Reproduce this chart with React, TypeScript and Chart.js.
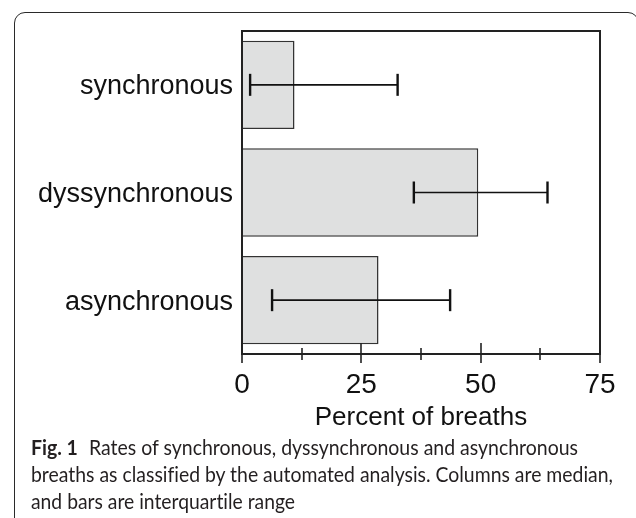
import React, { useEffect, useLayoutEffect, useRef } from "react";
import { Chart, registerables } from "chart.js";

Chart.register(...registerables);

const categories = ["synchronous", "dyssynchronous", "asynchronous"];
const medianValues = [11.0, 49.5, 28.6];
const lowerQuartile = [1.7, 36.0, 6.3];
const upperQuartile = [32.6, 64.0, 43.6];
const majorTicks = [0, 25, 50, 75];
const minorTicks = [12.5, 37.5, 62.5];
const axisTitle = "Percent of breaths";
const captionLabel = "Fig. 1";
const captionLines = [
  "Rates of synchronous, dyssynchronous and asynchronous",
  "breaths as classified by the automated analysis. Columns are median,",
  "and bars are interquartile range",
];
const captionTargetWidths = [547, 582, 264];

const SANS = "'Liberation Sans', Arial, Helvetica, sans-serif";

const decorPlugin = {
  id: "decor",
  afterDatasetsDraw(chart: any) {
    const { ctx, chartArea: a, scales } = chart;
    const xs = scales.x;
    const line = (x1: number, y1: number, x2: number, y2: number) => {
      ctx.beginPath();
      ctx.moveTo(x1, y1);
      ctx.lineTo(x2, y2);
      ctx.stroke();
    };
    ctx.save();
    ctx.strokeStyle = "#222";
    ctx.lineWidth = 2;
    ctx.strokeRect(a.left, a.top, a.right - a.left, a.bottom - a.top);
    ctx.lineWidth = 1.6;
    majorTicks.forEach((v) => {
      const px = Math.round(xs.getPixelForValue(v));
      line(px, a.bottom - 11, px, a.bottom + 9);
    });
    minorTicks.forEach((v) => {
      const px = Math.round(xs.getPixelForValue(v));
      line(px, a.bottom - 6, px, a.bottom + 6);
    });
    const meta = chart.getDatasetMeta(0);
    ctx.strokeStyle = "#111";
    meta.data.forEach((bar: any, i: number) => {
      const y = bar.y;
      const x1 = xs.getPixelForValue(lowerQuartile[i]);
      const x2 = xs.getPixelForValue(upperQuartile[i]);
      ctx.lineWidth = 1.6;
      line(x1, y, x2, y);
      ctx.lineWidth = 2.4;
      line(x1, y - 11, x1, y + 11);
      line(x2, y - 11, x2, y + 11);
    });
    ctx.restore();
  },
};

export default function App() {
  const canvasRef = useRef<HTMLCanvasElement | null>(null);
  const lineRefs = useRef<(HTMLSpanElement | null)[]>([]);

  useEffect(() => {
    if (!canvasRef.current) return;
    const chart = new Chart(canvasRef.current, {
      type: "bar",
      data: {
        labels: categories,
        datasets: [
          {
            data: medianValues,
            backgroundColor: "#dfe0e0",
            borderColor: "#333",
            borderWidth: 1.5,
            barPercentage: 0.82,
            categoryPercentage: 1,
          },
        ],
      },
      options: {
        indexAxis: "y",
        responsive: false,
        animation: false,
        layout: { padding: { top: 31, right: 36, left: 0, bottom: 0 } },
        plugins: { legend: { display: false }, tooltip: { enabled: false } },
        scales: {
          x: {
            type: "linear",
            min: 0,
            max: 75,
            position: "bottom",
            afterBuildTicks: (s: any) => {
              s.ticks = majorTicks.map((v) => ({ value: v }));
            },
            afterFit: (s: any) => {
              s.height = 86;
            },
            grid: { display: false, drawTicks: false },
            border: { display: false },
            ticks: {
              padding: 14,
              color: "#111",
              maxRotation: 0,
              autoSkip: false,
              font: { family: SANS, size: 28 },
            },
            title: {
              display: true,
              text: axisTitle,
              color: "#111",
              font: { family: SANS, size: 26 },
              padding: { top: 0, bottom: 7 },
            },
          },
          y: {
            type: "category",
            afterFit: (s: any) => {
              s.width = 242;
            },
            grid: { display: false, drawTicks: false },
            border: { display: false },
            ticks: {
              padding: 9,
              labelOffset: 2,
              color: "#111",
              font: { family: SANS, size: 27 },
            },
          },
        },
      } as any,
      plugins: [decorPlugin],
    });
    return () => chart.destroy();
  }, []);

  useLayoutEffect(() => {
    lineRefs.current.forEach((el, i) => {
      if (!el) return;
      el.style.transform = "none";
      const w = el.getBoundingClientRect().width;
      if (w > 0) el.style.transform = `scaleX(${captionTargetWidths[i] / w})`;
    });
  }, []);

  return (
    <div
      style={{
        position: "fixed",
        left: 0,
        top: 0,
        width: 636,
        height: 518,
        overflow: "hidden",
        background: "#fff",
      }}
    >
      <div
        style={{
          position: "absolute",
          left: 14,
          top: 12,
          width: 625,
          height: 700,
          boxSizing: "border-box",
          border: "1.3px solid #2a2a2a",
          borderRadius: 11,
        }}
      />
      <canvas
        ref={canvasRef}
        width={636}
        height={440}
        style={{ position: "absolute", left: 0, top: 0, width: 636, height: 440 }}
      />
      <div
        style={{
          position: "absolute",
          left: 31,
          top: 433,
          fontFamily: "Lato, 'Open Sans', sans-serif",
          fontSize: 21,
          lineHeight: "27px",
          color: "#231f20",
          whiteSpace: "nowrap",
          fontVariantLigatures: "none",
        }}
      >
        {captionLines.map((t, i) => (
          <div key={i} style={{ height: 27 }}>
            <span
              ref={(el) => {
                lineRefs.current[i] = el;
              }}
              style={{ display: "inline-block", transformOrigin: "0 0" }}
            >
              {i === 0 ? (
                <span style={{ fontWeight: 700, marginRight: 12 }}>{captionLabel}</span>
              ) : null}
              {t}
            </span>
          </div>
        ))}
      </div>
    </div>
  );
}
